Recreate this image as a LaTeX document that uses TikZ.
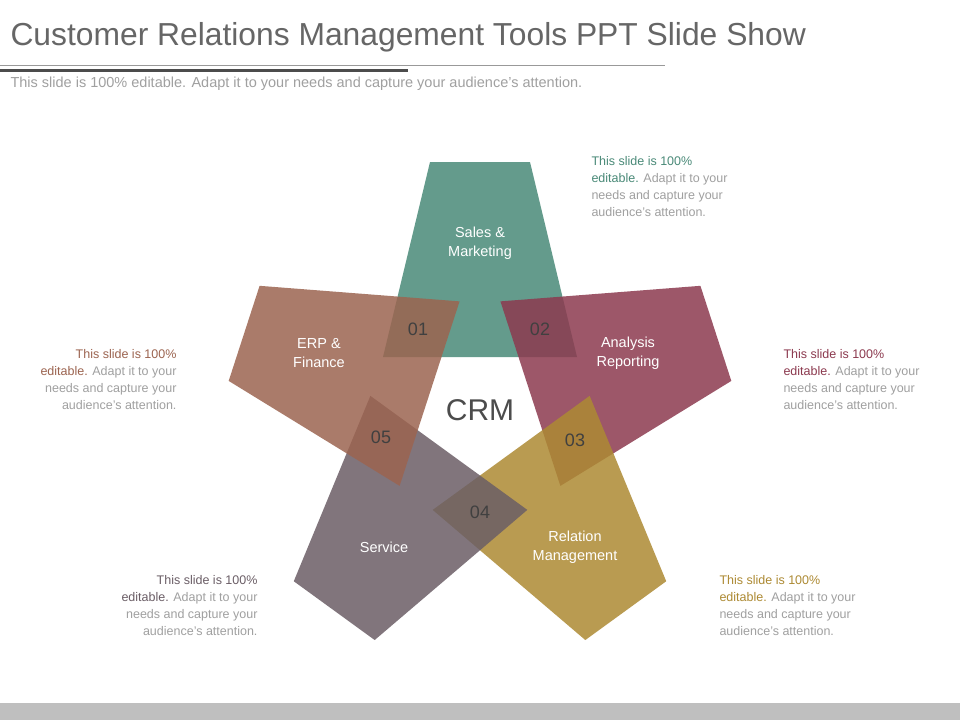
\documentclass[tikz,border=0pt]{standalone}
\usepackage{fontspec}
\setmainfont{Liberation Sans}
\usetikzlibrary{positioning}
\definecolor{salesc}{HTML}{4A8A78}
\definecolor{anac}{HTML}{8C3A4F}
\definecolor{relc}{HTML}{AD8A33}
\definecolor{servc}{HTML}{6B5E66}
\definecolor{erpc}{HTML}{9C6450}
\definecolor{txtgray}{HTML}{A0A0A0}
\newcommand{\notetext}[1]{\textcolor{#1}{This slide is 100\%}\\\textcolor{#1}{editable.} Adapt it to your\\needs and capture your\\audience's attention.}
\begin{document}
\begin{tikzpicture}[x=1pt,y=-1pt,
        petal/.style={fill opacity=0.85, draw=none},
        lbl/.style={text=white, font=\fontsize{14.5}{19}\selectfont, align=center},
        num/.style={text=black!75, font=\fontsize{18}{20}\selectfont},
        note/.style={font=\fontsize{12.5}{17}\selectfont, text=txtgray}]
    \useasboundingbox (0,0) rectangle (960,720);
    \fill[white] (0,0) rectangle (960,720);
    % title and rules
    \node[anchor=west, text=black!60, font=\fontsize{31.8}{34}\selectfont] (title) at (7,37) {Customer Relations Management Tools PPT Slide Show};
    \draw[black!40, line width=1pt] (0,65) -- (665,65);
    \draw[black!70, line width=3.5pt] (0,70.5) -- (408,70.5);
    \node[anchor=west, text=txtgray, font=\fontsize{14.5}{16}\selectfont] (sub) at (7,84) {This slide is 100\% editable. Adapt it to your needs and capture your audience's attention.};
    \fill[black!25] (0,703) rectangle (960,720);
    % petals
    \coordinate (c) at (480,410);
    \foreach \col [count=\i from 0] in {salesc,anac,relc,servc,erpc}
        \fill[petal, fill=\col, rotate around={-72*\i:(c)}] (430,162) -- (530,162) -- (577,357) -- (383,357) -- cycle;
    \node[lbl] (sales) at (480,243) {Sales \&\\Marketing};
    \node[lbl] (ana) at (628,353) {Analysis\\Reporting};
    \node[lbl] (rel) at (575,547) {Relation\\Management};
    \node[lbl] (serv) at (384,547) {Service};
    \node[lbl] (erp) at (319,353) {ERP \&\\Finance};
    \node[text=black!70, font=\fontsize{30}{32}\selectfont] (crm) at (480,410) {CRM};
    \node[num] (n1) at (418,329) {01};
    \node[num] (n2) at (540,329) {02};
    \node[num] (n3) at (575,440) {03};
    \node[num] (n4) at (480,512) {04};
    \node[num] (n5) at (381,437) {05};
    % notes
    \node[note, anchor=north west, align=left] (t1) at (588,153) {\notetext{salesc}};
    \node[note, anchor=north west, align=left] (t2) at (780,346) {\notetext{anac}};
    \node[note, anchor=north west, align=left] (t3) at (716,572) {\notetext{relc}};
    \node[note, anchor=north east, align=right] (t4) at (261,572) {\notetext{servc}};
    \node[note, anchor=north east, align=right] (t5) at (180,346) {\notetext{erpc}};
\end{tikzpicture}
\end{document}
